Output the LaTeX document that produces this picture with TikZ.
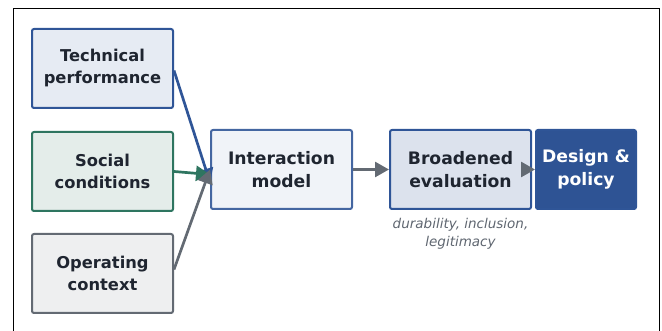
\documentclass[tikz,border=0pt]{standalone}
\usepackage{fontspec}
\setmainfont{DejaVu Sans}
\usepackage{xcolor}
\usetikzlibrary{arrows.meta}

\definecolor{techblue}{HTML}{2F5597}
\definecolor{socgreen}{HTML}{2E7560}
\definecolor{opgray}{HTML}{636A73}
\definecolor{inkdark}{HTML}{1F2530}
\definecolor{notegray}{HTML}{5F6670}

\begin{document}
\begin{tikzpicture}[x=1pt,y=-1pt,
  box/.style={draw, line width=2pt, rounded corners=2pt, minimum width=141pt, minimum height=79pt,
    align=center, text=inkdark, font=\bfseries\fontsize{16.3}{22}\selectfont},
  bigbox/.style={box, font=\bfseries\fontsize{17.2}{23}\selectfont},
  link/.style={line width=2.7pt, -{Triangle[length=14pt,width=15pt]}}]

\useasboundingbox (0,0) rectangle (662,331);
\draw[line width=0.8pt] (13,8) rectangle (659,345);

% inputs
\node[box, draw=techblue, fill=techblue!12] (tech) at (102.5,68.5) {Technical\\performance};
\node[box, draw=socgreen, fill=socgreen!13] (soc) at (102.5,171.5) {Social\\conditions};
\node[box, draw=opgray, fill=opgray!11] (oper) at (102.5,273.5) {Operating\\context};

% chain
\node[bigbox, draw=techblue!90, fill=techblue!7] (inter) at (281.5,169.5) {Interaction\\model};
\node[bigbox, draw=techblue, fill=techblue!17] (broad) at (460.5,169.5) {Broadened\\evaluation};
\node[bigbox, draw=techblue, fill=techblue!98!black, text=white, minimum width=100pt] (design) at (586,169.5) {Design \&\\policy};

\node[text=notegray, align=center, font=\itshape\fontsize{13.5}{18}\selectfont, anchor=north] (note) at (460.5,215) {durability, inclusion,\\legitimacy};

\draw[link, techblue] ([yshift=-2pt]tech.east) -- ([yshift=-13pt]inter.west);
\draw[link, socgreen] (soc.east) -- ([yshift=-5pt]inter.west);
\draw[link, opgray] ([yshift=4pt]oper.east) -- (inter.west);
\draw[link, opgray] (inter.east) -- (broad.west);
\draw[link, opgray] ([xshift=-10pt]broad.east) -- (design.west);

\end{tikzpicture}
\end{document}
